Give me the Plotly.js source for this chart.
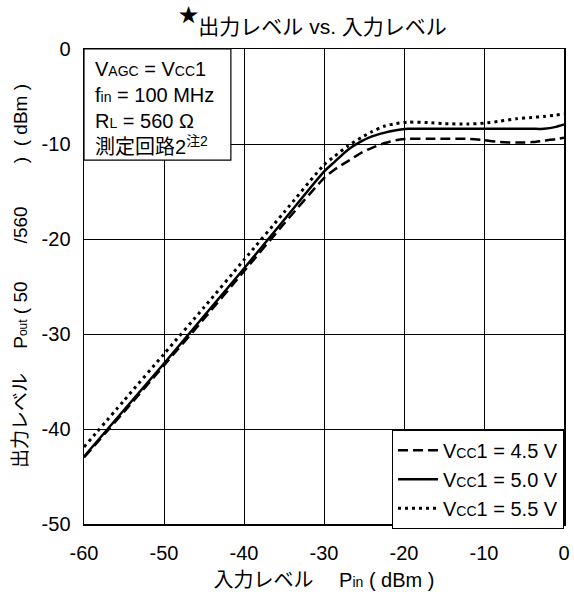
<!DOCTYPE html>
<html>
<head>
<meta charset="utf-8">
<script src="https://cdn.plot.ly/plotly-3.0.1.min.js"></script>
<style>html,body{margin:0;padding:0;background:#fff;}</style>
</head>
<body>
<div id="chart" style="width:574px;height:596px;"></div>
<script>
const pin = [-60,-55,-50,-45,-40,-35,-30,-28.7,-27,-25.3,-24,-22.4,-21,-19.5,-17,-15,-12,-10,-8,-6,-4,-2.5,-1,0];
const pout45 = [-43.0,-38.2,-33.3,-28.4,-23.4,-18.4,-13.6,-12.7,-11.8,-10.9,-10.4,-9.9,-9.6,-9.45,-9.45,-9.45,-9.45,-9.6,-9.8,-9.85,-9.8,-9.65,-9.5,-9.35];
const pout50 = [-42.9,-38.0,-33.1,-28.1,-23.1,-18.0,-12.9,-11.9,-10.6,-9.7,-9.2,-8.8,-8.55,-8.4,-8.4,-8.4,-8.4,-8.4,-8.4,-8.4,-8.4,-8.4,-8.2,-7.95];
const pout55 = [-41.9,-37.0,-32.1,-27.2,-22.2,-17.2,-12.2,-11.3,-10.2,-9.3,-8.7,-8.1,-7.85,-7.7,-7.75,-7.85,-7.9,-7.8,-7.6,-7.35,-7.2,-7.1,-6.95,-6.85];
const seriesNames = ['V<span style="font-size:14px">CC</span>1 = 4.5 V','V<span style="font-size:14px">CC</span>1 = 5.0 V','V<span style="font-size:14px">CC</span>1 = 5.5 V'];
const xTicks = [-60,-50,-40,-30,-20,-10,0];
const yTicks = [0,-10,-20,-30,-40,-50];
const condLines = ['V<span style="font-size:14px">AGC</span> = V<span style="font-size:14px">CC</span>1','f<span style="font-size:14px">in</span> = 100 MHz','R<span style="font-size:14px">L</span> = 560 Ω','測定回路2<sup>注2</sup>'];
const titleText = '<span style="font-size:28px"><sup>★</sup></span>出力レベル vs. 入力レベル';
const xTitle = '入力レベル　 P<span style="font-size:14px">in</span> ( dBm )';
const yTitle = '出力レベル　 P<span style="font-size:12px">out</span> ( 50　　/560　　 )  ( dBm )';

const FONT = 'Liberation Sans, Arial, Noto Sans CJK JP, sans-serif';
const traces = [
  {x: pin, y: pout45, name: seriesNames[0], mode:'lines', line:{color:'#000', width:2.5, dash:'10px,5px', shape:'spline', smoothing:0.6}},
  {x: pin, y: pout50, name: seriesNames[1], mode:'lines', line:{color:'#000', width:2.5, dash:'solid', shape:'spline', smoothing:0.6}},
  {x: pin, y: pout55, name: seriesNames[2], mode:'lines', line:{color:'#000', width:3, dash:'3px,4px', shape:'spline', smoothing:0.6}}
];
const layout = {
  width:574, height:596,
  margin:{l:84, r:10, t:49, b:72},
  paper_bgcolor:'#fff', plot_bgcolor:'#fff',
  font:{family:FONT, color:'#000', size:20},
  showlegend:true,
  title:{text:titleText, font:{family:FONT, size:21, color:'#000'}, x:0.545, xanchor:'center', y:0.955, yanchor:'middle'},
  xaxis:{range:[-60,0], tickvals:xTicks, ticktext:xTicks.map(String), showgrid:true, gridcolor:'#000', gridwidth:1,
    showline:true, linecolor:'#000', linewidth:1.5, mirror:true, ticks:'', zeroline:false, ticklabelstandoff:10,
    tickfont:{size:20},
    title:{text:xTitle, font:{size:20}, standoff:10}},
  yaxis:{range:[-50,0], tickvals:yTicks, ticktext:yTicks.map(String), showgrid:true, gridcolor:'#000', gridwidth:1,
    showline:true, linecolor:'#000', linewidth:1.5, mirror:true, ticks:'', zeroline:false, ticklabelstandoff:8,
    tickfont:{size:20}},
  legend:{x:1, xanchor:'right', y:-0.01, yanchor:'bottom', bgcolor:'#fff', bordercolor:'#000', borderwidth:1,
    font:{size:20}, tracegroupgap:0, itemwidth:40},
  shapes:[{type:'rect', xref:'paper', yref:'paper', x0:0, x1:0.306, y0:0.766, y1:1, fillcolor:'#fff', line:{color:'#000', width:1.2}, layer:'above'}],
  annotations:[
    {xref:'paper', yref:'paper', x:0.019, y:0.985, xanchor:'left', yanchor:'top', align:'left',
     text: condLines.join('<br>'), showarrow:false, font:{size:20}},
    {xref:'paper', yref:'paper', x:0, xshift:-64, y:0.522, xanchor:'center', yanchor:'middle', textangle:-90,
     text: yTitle, showarrow:false, font:{size:19}}
  ]
};
Plotly.newPlot('chart', traces, layout, {displayModeBar:false, staticPlot:true});
</script>
</body>
</html>
